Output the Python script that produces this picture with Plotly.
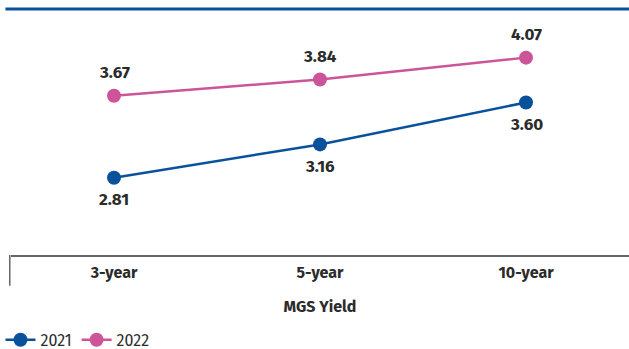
import plotly.graph_objects as go

categories = ["3-year", "5-year", "10-year"]
y2021 = [2.81, 3.16, 3.60]
y2022 = [3.67, 3.84, 4.07]
series_names = ["2021", "2022"]

BLUE = "#0A519C"
PINK = "#CC5599"
FONT = "Fira Sans, Noto Sans, Roboto, sans-serif"
LABEL_FONT = dict(family=FONT, size=17, color="#2b2b2b", weight="bold")

fig = go.Figure()
fig.add_trace(go.Scatter(
    x=categories, y=y2021, name=series_names[0], mode="lines+markers",
    line=dict(color=BLUE, width=2.5), marker=dict(color=BLUE, size=14),
))
fig.add_trace(go.Scatter(
    x=categories, y=y2022, name=series_names[1], mode="lines+markers",
    line=dict(color=PINK, width=2.5), marker=dict(color=PINK, size=14),
))

annotations = []
for c, v in zip(categories, y2021):
    annotations.append(dict(x=c, y=v, xref="x", yref="y", text=f"{v:.2f}", showarrow=False,
                            yshift=-22, font=LABEL_FONT))
for c, v in zip(categories, y2022):
    annotations.append(dict(x=c, y=v, xref="x", yref="y", text=f"{v:.2f}", showarrow=False,
                            yshift=23, font=LABEL_FONT))

fig.update_layout(
    width=629, height=349,
    margin=dict(l=11, r=0, t=9, b=94, autoexpand=False),
    paper_bgcolor="white", plot_bgcolor="white",
    font=dict(family=FONT, size=15, color="#2b2b2b"),
    showlegend=True,
    annotations=annotations,
    legend=dict(orientation="h", x=-0.017, xanchor="left", y=-0.345, yanchor="middle",
                font=dict(family=FONT, size=16, color="#2b2b2b"),
                itemwidth=30, tracegroupgap=0),
    xaxis=dict(
        type="category", showgrid=False, zeroline=False, automargin=False,
        showline=True, linecolor="#666666", linewidth=1.5,
        ticks="", tickfont=dict(family=FONT, size=16, color="#2b2b2b", weight="bold"),
        ticklabelstandoff=2,
        title=dict(text="MGS Yield", font=dict(family=FONT, size=16, color="#2b2b2b", weight="bold"),
                   standoff=20),
        range=[-0.5, 2.5],
    ),
    yaxis=dict(range=[2.0, 4.58], visible=False, showgrid=False, zeroline=False),
)

# top decorative rule
fig.add_shape(type="line", xref="paper", yref="paper", x0=-0.009, x1=1.0, y0=1.0, y1=1.0,
              line=dict(color=BLUE, width=3))
# left category boundary tick
fig.add_shape(type="line", xref="paper", yref="paper", x0=-0.002, x1=-0.002, y0=0, y1=-0.125,
              line=dict(color="#666666", width=1.5))

fig.write_html("out.html")
